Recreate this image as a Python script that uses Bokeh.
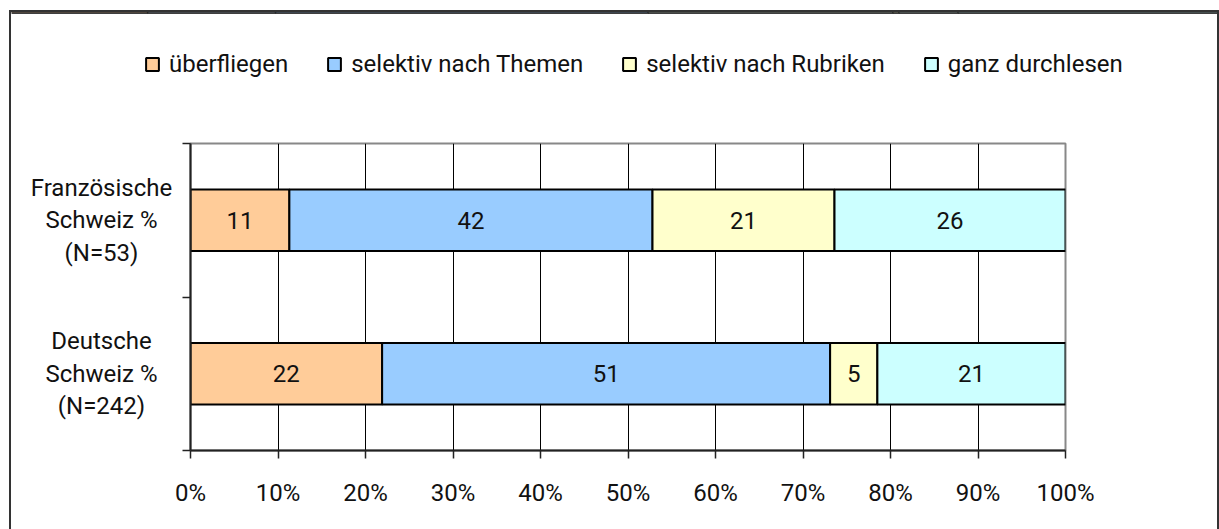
from bokeh.plotting import figure
from bokeh.layouts import column, row
from bokeh.models import FixedTicker, PrintfTickFormatter, Legend, LegendItem, Range1d
from bokeh.core.properties import value
from bokeh.embed import file_html
from bokeh.resources import INLINE

# ---- data ----
categories = ["Französische\nSchweiz %\n(N=53)", "Deutsche\nSchweiz %\n(N=242)"]
series = ["überfliegen", "selektiv nach Themen", "selektiv nach Rubriken", "ganz durchlesen"]
colors = ["#FFCC99", "#99CCFF", "#FFFFCC", "#CCFFFF"]

ueberfliegen = [11.3, 21.9]
selektiv_themen = [41.5, 51.2]
selektiv_rubriken = [20.8, 5.4]
ganz_durchlesen = [26.4, 21.5]

label_ueberfliegen = [11, 22]
label_themen = [42, 51]
label_rubriken = [21, 5]
label_ganz = [26, 21]

x_ticks = [0, 10, 20, 30, 40, 50, 60, 70, 80, 90, 100]

FONT = "Roboto"
FS = "24px"
TXT = "#111111"

values = [ueberfliegen, selektiv_themen, selektiv_rubriken, ganz_durchlesen]
labels = [label_ueberfliegen, label_themen, label_rubriken, label_ganz]

y_range = Range1d(0, len(categories))
ys = [len(categories) - i - 0.5 for i in range(len(categories))]

# stacked extents per series
extents = []
left = [0.0] * len(categories)
for vals in values:
    right = [l + v for l, v in zip(left, vals)]
    extents.append((left, right))
    left = right

# ---- main chart ----
p = figure(width=1043, height=390, x_range=Range1d(0, 100), y_range=y_range,
           output_backend="svg", toolbar_location=None,
           min_border_left=16, min_border_right=152, min_border_top=4, min_border_bottom=79)

for col, (lft, rgt), labs in zip(colors, extents, labels):
    p.hbar(y=ys, left=lft, right=rgt, height=0.4, fill_color=col,
           line_color="black", line_width=2)
    mids = [(a + b) / 2 for a, b in zip(lft, rgt)]
    p.text(x=mids, y=ys, text=[str(t) for t in labs], text_font=value(FONT),
           text_font_size=FS, text_align="center", text_baseline="middle", text_color=TXT)

p.xaxis.ticker = FixedTicker(ticks=x_ticks)
p.xaxis.formatter = PrintfTickFormatter(format="%d%%")
p.xaxis.major_tick_out = 8
p.xaxis.major_tick_in = 0
p.xaxis.minor_tick_out = 0
p.xaxis.axis_line_color = "#222222"
p.xaxis.axis_line_width = 2
p.xaxis.major_tick_line_color = "#222222"
p.xaxis.major_tick_line_width = 1.5
p.xaxis.major_label_text_font = FONT
p.xaxis.major_label_text_font_size = FS
p.xaxis.major_label_text_color = TXT
p.xaxis.major_label_standoff = 20

p.yaxis.ticker = FixedTicker(ticks=[], minor_ticks=list(range(len(categories) + 1)))
p.yaxis.major_tick_out = 0
p.yaxis.major_tick_in = 0
p.yaxis.minor_tick_out = 8
p.yaxis.minor_tick_in = 0
p.yaxis.minor_tick_line_color = "#222222"
p.yaxis.minor_tick_line_width = 1.5
p.yaxis.axis_line_color = "#222222"
p.yaxis.axis_line_width = 2
p.yaxis.major_label_text_font_size = "0px"

p.xgrid.ticker = FixedTicker(ticks=x_ticks)
p.xgrid.grid_line_color = "black"
p.xgrid.grid_line_width = 1
p.ygrid.visible = False

p.outline_line_color = "#888888"
p.outline_line_width = 2

# ---- category labels (share the y scale of the chart) ----
lab = figure(width=163, height=390, x_range=Range1d(0, 1), y_range=y_range,
             output_backend="svg", toolbar_location=None,
             x_axis_location=None, y_axis_location=None,
             min_border_left=0, min_border_right=0, min_border_top=4, min_border_bottom=79)
lab.grid.visible = False
lab.outline_line_color = None
lab.text(x=[0.552] * len(categories), y=ys, text=categories, text_font=value(FONT),
         text_font_size=FS, text_align="center", text_baseline="middle",
         text_line_height=1.16, text_color=TXT)

# ---- legend strip (same series, scrolled out of its view so only the legend shows) ----
leg = figure(width=1206, height=127, x_range=Range1d(0, 100), y_range=Range1d(-3, -2),
             output_backend="svg", toolbar_location=None,
             x_axis_location=None, y_axis_location=None,
             min_border_left=0, min_border_right=0, min_border_top=0, min_border_bottom=0)
leg.grid.visible = False
leg.outline_line_color = None
leg_renderers = [leg.hbar(y=ys, left=lft, right=rgt, height=0.4, fill_color=c,
                          line_color="black", line_width=2)
                 for c, (lft, rgt) in zip(colors, extents)]
legend = Legend(items=[LegendItem(label=s, renderers=[r]) for s, r in zip(series, leg_renderers)],
                orientation="horizontal", location=(133, 61),
                glyph_width=16, glyph_height=16, label_standoff=9, spacing=38,
                padding=0, margin=0, border_line_color=None, background_fill_alpha=0,
                label_text_font=FONT, label_text_font_size=FS, label_text_color=TXT)
leg.add_layout(legend)

layout = column(leg, row(lab, p))
layout.styles = {"border-top": "2px solid #333333", "border-left": "2px solid #333333",
                 "border-right": "2px solid #333333", "margin-top": "10px", "margin-left": "9px"}

open("out.html", "w").write(file_html(layout, INLINE))
